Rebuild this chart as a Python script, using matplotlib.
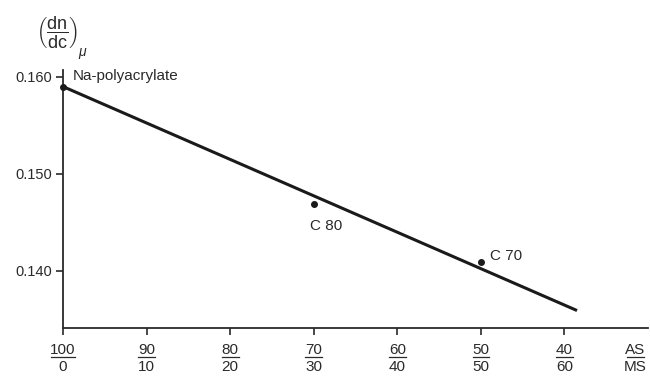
import matplotlib.pyplot as plt
from matplotlib import transforms

plt.rcParams["font.family"] = ["Liberation Sans", "DejaVu Sans"]
plt.rcParams["mathtext.fontset"] = "custom"
plt.rcParams["mathtext.rm"] = "Liberation Sans"
plt.rcParams["mathtext.it"] = "Liberation Sans:italic"

INK = "#2a2a2a"

# AS / MS composition (weight %) and measured refractive index increments
as_pct = [100, 70, 50]
dndc = [0.159, 0.1469, 0.1409]
names = ["Na-polyacrylate", "C 80", "C 70"]

# fitted straight line
fit_as = [100, 38.5]
fit_dndc = [0.159, 0.1359]

tick_as = [100, 90, 80, 70, 60, 50, 40]
tick_ms = [0, 10, 20, 30, 40, 50, 60]
y_ticks = [0.140, 0.150, 0.160]

fig = plt.figure(figsize=(6.5, 3.77), dpi=100)
ax = fig.add_axes([0.097, 0.13, 0.9, 0.684])

ax.plot(fit_as, fit_dndc, color="#1a1a1a", lw=2.2, solid_capstyle="butt", zorder=2)
ax.plot(as_pct, dndc, "o", color="#1a1a1a", ms=4, zorder=3, clip_on=False)

label_offsets = {
    "Na-polyacrylate": (7, 7.5, "left", "center"),
    "C 80": (-3, -11, "left", "top"),
    "C 70": (6.5, 4.5, "left", "center"),
}
for x, y, name in zip(as_pct, dndc, names):
    dx, dy, ha, va = label_offsets[name]
    ax.annotate(name, (x, y), textcoords="offset points", xytext=(dx, dy),
                ha=ha, va=va, fontsize=11, color=INK)

ax.set_xlim(100, 30)
ax.set_ylim(0.1341, 0.1607)

for s in ("top", "right"):
    ax.spines[s].set_visible(False)
for s in ("left", "bottom"):
    ax.spines[s].set_color(INK)
    ax.spines[s].set_linewidth(1.3)

ax.set_yticks(y_ticks)
ax.set_yticklabels([f"{v:.3f}" for v in y_ticks])
ax.tick_params(axis="y", direction="out", length=5, width=1.2, colors=INK,
               labelsize=10.5, pad=3)
ax.set_xticks(tick_as)
ax.set_xticklabels([])
ax.tick_params(axis="x", direction="out", length=5, width=1.2, colors=INK)

# fraction-style tick labels: AS over MS with a bar between
xblend = transforms.blended_transform_factory(ax.transData, ax.transAxes)
bar_off = transforms.ScaledTranslation(0, -21 / 72, fig.dpi_scale_trans)


def fraction(x, top, bottom, trans_x):
    ax.annotate(top, (x, 0), xycoords=trans_x, textcoords="offset points",
                xytext=(0, -15.5), ha="center", va="center", fontsize=11,
                color=INK, annotation_clip=False)
    ax.annotate(bottom, (x, 0), xycoords=trans_x, textcoords="offset points",
                xytext=(0, -28), ha="center", va="center", fontsize=11,
                color=INK, annotation_clip=False)
    half = 1.4 if len(top) > 2 or len(bottom) > 2 else 1.0
    ax.plot([x - half, x + half], [0, 0], color=INK, lw=0.9,
            transform=trans_x + bar_off, clip_on=False)


for a, m in zip(tick_as, tick_ms):
    fraction(a, str(a), str(m), xblend)
fraction(31.5, "AS", "MS", xblend)

# y-axis quantity: (dn/dc) with a low-set mu subscript
fig.text(0.088, 0.915, r"$\left(\dfrac{\mathrm{dn}}{\mathrm{dc}}\right)$",
         ha="center", va="center", fontsize=13, color=INK)
fig.text(0.127, 0.858, r"$\mu$", ha="center", va="center", fontsize=10,
         color=INK)

fig.savefig("out.png", dpi=100, facecolor="white")
